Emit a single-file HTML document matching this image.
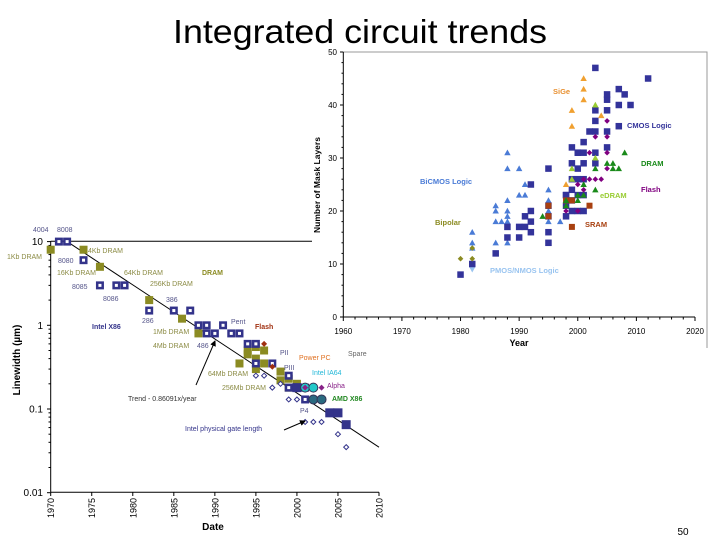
<!DOCTYPE html>
<html><head><meta charset="utf-8"><style>
body{margin:0;background:#fff;}
svg{display:block;font-family:"Liberation Sans",sans-serif;}
</style></head><body>
<svg id="s" width="720" height="540" viewBox="0 0 720 540">
<text x="360" y="43" text-anchor="middle" font-size="33" textLength="374" lengthAdjust="spacingAndGlyphs">Integrated circuit trends</text>
<text x="683" y="535" text-anchor="middle" font-size="10">50</text>
<g id="L"></g>
<g id="R"></g>
</svg>
<script>
// ---------- Left chart data ----------
const x86Years=[1971,1972,1974,1976,1978,1979,1982,1985,1987,1988,1989,1989,1990,1991,1992,1993,1994,1995,1995,1997,1999,1999,2001,2001];
const x86Vals=[10,10,6,3,3,3,1.5,1.5,1.5,1,1,0.8,0.8,1,0.8,0.8,0.6,0.6,0.35,0.35,0.25,0.18,0.18,0.13];
const x86SolidYears=[2000,2004,2005,2006];
const x86SolidVals=[0.18,0.09,0.09,0.065];
const dramYears=[1970,1974,1976,1982,1986,1988,1993,1994,1994,1995,1995,1995,1996,1996,1998,1998,1999,1999,2000];
const dramVals=[8,8,5,2,1.2,0.8,0.35,0.5,0.45,0.55,0.4,0.3,0.5,0.35,0.28,0.22,0.23,0.18,0.2];
const gateYears=[1995,1996,1997,1998,1999,2000,2001,2002,2003,2005,2006];
const gateVals=[0.25,0.25,0.18,0.2,0.13,0.13,0.07,0.07,0.07,0.05,0.035];
const ia64Years=[2001,2002];
const ia64Vals=[0.18,0.18];
const amdYears=[2002,2003];
const amdVals=[0.13,0.13];
const flashYears=[1996,1997];
const flashVals=[0.6,0.32];
const alphaYears=[2001,2003];
const alphaVals=[0.18,0.18];
const trendYears=[1972,2010];
const trendVals=[10,0.035];
const leftTickYears=[1970,1975,1980,1985,1990,1995,2000,2005,2010];
const leftTickVals=[10,1,0.1,0.01];
const leftTickLabels=["10","1","0.1","0.01"];

// ---------- Right chart data ----------
const cmosYears=[1980,1982,1986,1988,1988,1990,1990,1991,1991,1992,1992,1992,1992,1995,1995,1995,1995,1995,1998,1998,1998,1998,1999,1999,1999,1999,1999,1999,2000,2000,2000,2000,2000,2000,2001,2001,2001,2001,2001,2001,2002,2003,2003,2003,2003,2003,2003,2005,2005,2005,2005,2005,2007,2007,2007,2008,2009,2012];
const cmosVals=[8,10,12,17,15,15,17,17,19,25,16,18,20,28,14,16,19,21,23,19,21,23,24,20,22,26,29,32,20,23,26,28,31,31,20,23,26,29,31,33,35,47,29,31,35,37,39,41,42,39,35,32,43,40,36,42,40,45];
const bicmosYears=[1982,1982,1982,1986,1986,1986,1986,1987,1988,1988,1988,1988,1988,1988,1988,1988,1990,1990,1991,1991,1992,1992,1992,1995,1995,1995,1995,1997];
const bicmosVals=[14,16,13,14,18,20,21,18,14,17,18,19,20,22,28,31,23,28,23,25,16,18,20,18,20,22,24,18];
const bipolarYears=[1980,1982,1982];
const bipolarVals=[11,11,13];
const pmosYears=[1982];
const pmosVals=[9];
const sigeYears=[1998,1999,1999,2001,2001,2001,2004];
const sigeVals=[25,36,39,41,43,45,38];
const edramYears=[1999,1999,2003,2003];
const edramVals=[26,28,30,40];
const dramRYears=[1994,1998,1998,2000,2000,2001,2001,2003,2003,2005,2006,2006,2007,2008];
const dramRVals=[19,21,22,22,23,23,25,24,28,29,28,29,28,31];
const flashRYears=[1998,2000,2000,2001,2001,2002,2002,2003,2003,2004,2005,2005,2005,2005];
const flashRVals=[20,20,25,24,26,26,31,26,34,26,28,31,34,37];
const sramYears=[1995,1995,1998,1999,1999,2002];
const sramVals=[19,21,22,17,22,21];
const rightTickYears=[1960,1970,1980,1990,2000,2010,2020];
const rightTickVals=[0,10,20,30,40,50];

const NS="http://www.w3.org/2000/svg";
function mk(parent,tag,attrs,txt){const e=document.createElementNS(NS,tag);for(const k in attrs)e.setAttribute(k,attrs[k]);if(txt!==undefined)e.textContent=txt;parent.appendChild(e);return e;}

// Left axes
const lx=y=>50.7+(y-1970)*(379-50.7)/40;
const ly=v=>325.3-Math.log10(v)*83.7;
const L=document.getElementById('L');
let e;
e=mk(L,'rect',{x:313,y:44,width:397,height:305,fill:'#fff'});


e=mk(L,'line',{x1:50.7,y1:241.3,x2:312,y2:241.3,stroke:'#000','stroke-width':1});


mk(L,'line',{x1:50.7,y1:241,x2:50.7,y2:492.3,stroke:'#000'});
mk(L,'line',{x1:50.7,y1:492.3,x2:379,y2:492.3,stroke:'#000'});
leftTickVals.forEach((v,i)=>{
  e=mk(L,'text',{x:43,y:ly(v)+3.5,'text-anchor':'end','font-size':10},leftTickLabels[i]);
  
  
  mk(L,'line',{x1:47,y1:ly(v),x2:50.7,y2:ly(v),stroke:'#000'});
  if(i<3)for(let m=2;m<10;m++){const yy=ly(v/10*m);mk(L,'line',{x1:48.5,y1:yy,x2:50.7,y2:yy,stroke:'#000'});}
});
leftTickYears.forEach(y=>{
  mk(L,'line',{x1:lx(y),y1:492.3,x2:lx(y),y2:496,stroke:'#000'});
  e=mk(L,'text',{x:lx(y)+3.5,y:518,'font-size':9,transform:`rotate(-90 ${lx(y)+3.5} 518)`},String(y));
  
  
});
e=mk(L,'text',{x:213,y:530,'text-anchor':'middle','font-size':10,'font-weight':'bold'},'Date');


e=mk(L,'text',{x:20,y:360,'text-anchor':'middle','font-size':10,'font-weight':'bold',transform:'rotate(-90 20 360)'},'Linewidth (µm)');


e=mk(L,'line',{x1:lx(trendYears[0]),y1:ly(trendVals[0]),x2:lx(trendYears[1]),y2:ly(trendVals[1]),stroke:'#000','stroke-width':1});



function sq(g,xs,ys,fx,fy,s,fill,name,hollow){xs.forEach((x,i)=>{
  const e=mk(g,'rect',{x:fx(x)-s/2,y:fy(ys[i])-s/2,width:s,height:s,fill:fill});
  
  
  if(hollow)mk(g,'rect',{x:fx(x)-1.5,y:fy(ys[i])-1.5,width:3,height:3,fill:'#fff'});
});}
function dia(g,xs,ys,fx,fy,s,fill,stroke,name){xs.forEach((x,i)=>{
  const cx=fx(x),cy=fy(ys[i]);
  const e=mk(g,'polygon',{points:`${cx},${cy-s} ${cx+s},${cy} ${cx},${cy+s} ${cx-s},${cy}`,fill:fill,stroke:stroke,'stroke-width':1});
  
  
});}
function circ(g,xs,ys,fx,fy,r,fill,name){xs.forEach((x,i)=>{
  const e=mk(g,'circle',{cx:fx(x),cy:fy(ys[i]),r:r,fill:fill,stroke:'#335',"stroke-width":1});
  
  
});}
function tri(g,xs,ys,fx,fy,s,fill,name,down){xs.forEach((x,i)=>{
  const cx=fx(x),cy=fy(ys[i]);const d=down?-1:1;
  const e=mk(g,'polygon',{points:`${cx},${cy-s*d} ${cx+s},${cy+s*0.8*d} ${cx-s},${cy+s*0.8*d}`,fill:fill});
  
  
});}
sq(L,dramYears,dramVals,lx,ly,8,'#8b8b22','dram-point');
sq(L,x86Years,x86Vals,lx,ly,8,'#33338a','intel-x86-point',true);
sq(L,x86SolidYears,x86SolidVals,lx,ly,9,'#33338a','intel-x86-point');
dia(L,gateYears,gateVals,lx,ly,2.5,'#fff','#33338a','gate-length-point');
circ(L,amdYears,amdVals,lx,ly,4.5,'#2a6a80','amd-x86-point');
circ(L,ia64Years,ia64Vals,lx,ly,4.5,'#22c8c8','intel-ia64-point');
dia(L,flashYears,flashVals,lx,ly,3,'#a03010','none','flash-point');
dia(L,alphaYears,alphaVals,lx,ly,3,'#882288','none','alpha-point');

const leftLabels=[
 ["4004",33,232,'#55558a',7,'normal'],["8008",57,232,'#55558a',7,'normal'],
 ["1Kb DRAM",7,259,'#8b8b44',7,'normal'],["4Kb DRAM",88,253,'#8b8b44',7,'normal'],
 ["8080",58,263,'#55558a',7,'normal'],["16Kb DRAM",57,275,'#8b8b44',7,'normal'],
 ["64Kb DRAM",124,275,'#8b8b44',7,'normal'],["DRAM",202,275,'#8b8b22',7,'bold'],
 ["256Kb DRAM",150,286,'#8b8b44',7,'normal'],["8085",72,289,'#55558a',7,'normal'],
 ["8086",103,301,'#55558a',7,'normal'],["386",166,302,'#55558a',7,'normal'],
 ["286",142,323,'#55558a',7,'normal'],["Intel X86",92,329,'#33338a',7,'bold'],
 ["Pent",231,324,'#55558a',7,'normal'],["Flash",255,329,'#a03010',7,'bold'],
 ["1Mb DRAM",153,334,'#8b8b44',7,'normal'],["4Mb DRAM",153,348,'#8b8b44',7,'normal'],
 ["486",197,348,'#55558a',7,'normal'],["PII",280,355,'#55558a',7,'normal'],
 ["Spare",348,356,'#666',7,'normal'],["Power PC",299,360,'#e07020',7,'normal'],
 ["PIII",284,370,'#55558a',7,'normal'],["Intel IA64",312,375,'#22b8d8',7,'normal'],
 ["64Mb DRAM",208,376,'#8b8b44',7,'normal'],["Alpha",327,388,'#882288',7,'normal'],
 ["256Mb DRAM",222,390,'#8b8b44',7,'normal'],["AMD X86",332,401,'#228822',7,'bold'],
 ["Trend - 0.86091x/year",128,401,'#333',7,'normal'],["P4",300,413,'#55558a',7,'normal'],
 ["Intel physical gate length",185,431,'#33338a',7,'normal']];
leftLabels.forEach(t=>{
  const e=mk(L,'text',{x:t[1],y:t[2],fill:t[3],'font-size':t[4],'font-weight':t[5]},t[0]);
  
  
});
mk(L,'defs',{}).innerHTML='<marker id="ah" markerWidth="6" markerHeight="6" refX="5" refY="3" orient="auto"><path d="M0,0L6,3L0,6z" fill="#000"/></marker>';
e=mk(L,'line',{x1:196,y1:385,x2:215,y2:341,stroke:'#000','marker-end':'url(#ah)'});


e=mk(L,'line',{x1:284,y1:430,x2:305,y2:421,stroke:'#000','marker-end':'url(#ah)'});



// Right chart
const R=document.getElementById('R');
const rx=y=>343.3+(y-1960)*(695-343.3)/60;
const ry=v=>317-v*5.3;
mk(R,'polyline',{points:`343.3,52 707,52 707,348`,fill:'none',stroke:'#999'});
mk(R,'line',{x1:343.3,y1:52,x2:343.3,y2:317,stroke:'#000'});
mk(R,'line',{x1:343.3,y1:317,x2:695,y2:317,stroke:'#000'});
rightTickVals.forEach(v=>{
  mk(R,'line',{x1:340,y1:ry(v),x2:343.3,y2:ry(v),stroke:'#000'});
  for(let m=1;m<5&&v<50;m++)mk(R,'line',{x1:341.5,y1:ry(v+2*m),x2:343.3,y2:ry(v+2*m),stroke:'#000'});
  const e=mk(R,'text',{x:337,y:ry(v)+3,'text-anchor':'end','font-size':8},String(v));
  
  
});
for(let y=1960;y<=2020;y+=2)mk(R,'line',{x1:rx(y),y1:317,x2:rx(y),y2:y%10===0?321:319.5,stroke:'#000'});
rightTickYears.forEach(y=>{
  const e=mk(R,'text',{x:rx(y),y:334,'text-anchor':'middle','font-size':8},String(y));
  
  
});
e=mk(R,'text',{x:519,y:346,'text-anchor':'middle','font-size':9,'font-weight':'bold'},'Year');


e=mk(R,'text',{x:320,y:185,'text-anchor':'middle','font-size':8.5,'font-weight':'bold',transform:'rotate(-90 320 185)'},'Number of Mask Layers');



tri(R,bicmosYears,bicmosVals,rx,ry,3.2,'#4a7bd6','bicmos-point');
tri(R,pmosYears,pmosVals,rx,ry,3.2,'#99c4f0','pmos-nmos-point',true);
sq(R,cmosYears,cmosVals,rx,ry,6.5,'#33339a','cmos-logic-point');
dia(R,bipolarYears,bipolarVals,rx,ry,2.8,'#8b8b22','none','bipolar-point');
sq(R,sramYears,sramVals,rx,ry,6,'#a84010','sram-point');
tri(R,sigeYears,sigeVals,rx,ry,3.2,'#f0a030','sige-point');
tri(R,edramYears,edramVals,rx,ry,3.2,'#99cc33','edram-point');
tri(R,dramRYears,dramRVals,rx,ry,3.2,'#1a8a1a','dram-point');
dia(R,flashRYears,flashRVals,rx,ry,2.8,'#800080','none','flash-point');

const rightLabels=[["SiGe",553,94,'#e89030'],["CMOS Logic",627,128,'#33339a'],["DRAM",641,166,'#1a8a1a'],
 ["Flash",641,192,'#800080'],["eDRAM",600,198,'#99cc33'],["SRAM",585,227,'#a84010'],
 ["BiCMOS Logic",420,184,'#4a7bd6'],["Bipolar",435,225,'#8b8b22'],["PMOS/NMOS Logic",490,273,'#99c4f0']];
rightLabels.forEach(t=>{
  const e=mk(R,'text',{x:t[1],y:t[2],fill:t[3],'font-size':7.5,'font-weight':'bold'},t[0]);
  
  
});
</script>
</body></html>
